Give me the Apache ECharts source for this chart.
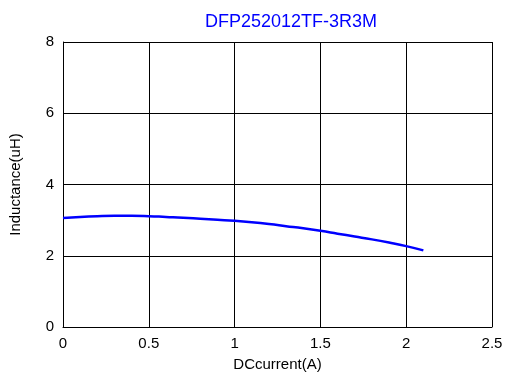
<!DOCTYPE html>
<html><head><meta charset="utf-8">
<script src="https://cdn.jsdelivr.net/npm/echarts@6/dist/echarts.min.js"></script>
<style>html,body{margin:0;padding:0;background:#fff}#c{width:507px;height:381px}</style>
</head><body><div id="c"></div>
<script>
const titleText = 'DFP252012TF-3R3M';
const xName = 'DCcurrent(A)';
const yName = 'Inductance(uH)';
const currents = [0,0.1,0.2,0.3,0.4,0.5,0.6,0.7,0.8,0.9,1.0,1.1,1.2,1.3,1.4,1.5,1.6,1.7,1.8,1.9,2.0,2.1];
const inductance = [3.06,3.09,3.11,3.12,3.12,3.11,3.09,3.07,3.04,3.01,2.98,2.94,2.89,2.83,2.77,2.70,2.62,2.54,2.46,2.37,2.27,2.15];
const font = 'Arial, "Liberation Sans", sans-serif';
const chart = echarts.init(document.getElementById('c'), null, {renderer:'canvas'});
chart.setOption({
  animation:false,
  title:{text:titleText,left:286,top:8,textAlign:'center',textStyle:{color:'#0000ff',fontSize:18,fontWeight:'normal',fontFamily:font}},
  grid:{left:63,right:15,top:42,bottom:54},
  xAxis:{type:'value',min:0,max:2.5,interval:0.5,name:xName,nameLocation:'middle',nameGap:30,
    nameTextStyle:{color:'#000',fontSize:15,fontFamily:font},
    axisLine:{show:true,lineStyle:{color:'#000',width:1}},axisTick:{show:false},
    axisLabel:{color:'#000',fontSize:15,fontFamily:font,margin:9},
    splitLine:{show:true,lineStyle:{color:'#000',width:1}}},
  yAxis:{type:'value',min:0,max:8,interval:2,name:yName,nameLocation:'middle',nameGap:40,
    nameTextStyle:{color:'#000',fontSize:15,fontFamily:font},
    axisLine:{show:true,lineStyle:{color:'#000',width:1}},axisTick:{show:false},
    axisLabel:{color:'#000',fontSize:15,fontFamily:font,margin:9},
    splitLine:{show:true,lineStyle:{color:'#000',width:1}}},
  series:[{type:'line',data:currents.map((x,i)=>[x,inductance[i]]),smooth:true,showSymbol:false,
    lineStyle:{color:'#0000ff',width:2.5}}]
});
</script></body></html>
